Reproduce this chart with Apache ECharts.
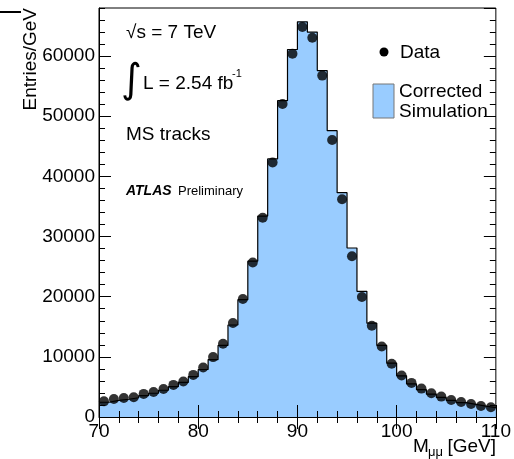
<!DOCTYPE html>
<html>
<head>
<meta charset="utf-8">
<script src="https://cdn.jsdelivr.net/npm/echarts@6/dist/echarts.min.js"></script>
<style>
html,body{margin:0;padding:0;background:#fff}
#chart{width:514px;height:459px}
</style>
</head>
<body>
<div id="chart"></div>
<script>
// bin centres, 1 GeV bins from 70 to 110
var binCenters = [70.5,71.5,72.5,73.5,74.5,75.5,76.5,77.5,78.5,79.5,
                  80.5,81.5,82.5,83.5,84.5,85.5,86.5,87.5,88.5,89.5,
                  90.5,91.5,92.5,93.5,94.5,95.5,96.5,97.5,98.5,99.5,
                  100.5,101.5,102.5,103.5,104.5,105.5,106.5,107.5,108.5,109.5];
var dataValues = [2600,3000,3170,3280,3840,4170,4670,5340,5890,7000,
                  8230,9960,12180,15630,19630,25700,33140,42320,52040,60380,
                  64830,63050,56760,46060,36200,26740,19960,15180,11730,8840,
                  6890,5670,4720,3950,3390,2840,2500,2170,1830,1620];
var simValues  = [2450,2750,2950,3200,3550,3950,4450,5050,5750,6700,
                  7900,9550,11900,15300,19500,25900,33400,42900,52600,61100,
                  65700,64000,57600,47600,37300,28100,20900,15600,11900,8950,
                  6850,5500,4550,3800,3250,2750,2400,2100,1800,1550];
var xTicks = [70, 80, 90, 100, 110];
var binWidth = 1;

var font = '"Liberation Sans", Arial, sans-serif';

// step outline from the lower edge of each bin, closed at the last upper edge
var histData = simValues.map(function(v, i){ return [binCenters[i] - binWidth/2, v]; });
histData.push([binCenters[binCenters.length-1] + binWidth/2, simValues[simValues.length-1]]);
var pointData = dataValues.map(function(v, i){ return [binCenters[i], v]; });

function xAx(pos, interval, len, labels){
  return {
    type:'value', position:pos, min:xTicks[0], max:xTicks[xTicks.length-1], interval:interval, z:5,
    axisLine:{show:labels, lineStyle:{color:'#000', width:1}},
    axisTick:{show:true, inside:true, length:len, lineStyle:{color:'#000', width:1}},
    axisLabel:{show:labels, color:'#000', fontSize:19, fontFamily:font, margin:5},
    splitLine:{show:false}
  };
}
function yAx(pos, interval, len, labels){
  return {
    type:'value', position:pos, min:0, max:68000, interval:interval, z:5,
    axisLine:{show:labels, lineStyle:{color:'#000', width:1}},
    axisTick:{show:true, inside:true, length:len, lineStyle:{color:'#000', width:1}},
    axisLabel:{show:labels, showMaxLabel:false, color:'#000', fontSize:19, fontFamily:font, margin:4,
               formatter:function(v){ return String(v); }},
    splitLine:{show:false}
  };
}

var chart = echarts.init(document.getElementById('chart'));
chart.setOption({
  animation:false,
  grid:{left:99, right:18, top:8, bottom:42, show:true, borderColor:'#000', borderWidth:1, backgroundColor:'transparent'},
  xAxis:[
    xAx('bottom', 10, 12, true),
    xAx('bottom', 2, 6, false),
    xAx('top', 10, 12, false),
    xAx('top', 2, 6, false)
  ],
  yAxis:[
    yAx('left', 10000, 12, true),
    yAx('left', 2000, 6, false),
    yAx('right', 10000, 12, false),
    yAx('right', 2000, 6, false)
  ],
  series:[
    {
      name:'Corrected Simulation', type:'line', step:'end', data:histData,
      xAxisIndex:0, yAxisIndex:0, symbol:'none', z:2,
      lineStyle:{color:'#000', width:1.2},
      areaStyle:{color:'#99ccff', opacity:1}
    },
    {
      name:'Data', type:'scatter', data:pointData, xAxisIndex:0, yAxisIndex:0,
      symbol:'circle', symbolSize:10, itemStyle:{color:'#000'}, z:4
    }
  ],
  graphic:[
    {type:'line', shape:{x1:0, y1:12, x2:21, y2:12}, style:{stroke:'#000', lineWidth:2}},
    {type:'text', x:31, y:8, rotation:Math.PI/2,
     style:{text:'Entries/GeV', font:'19px ' + font, fill:'#000', align:'right', verticalAlign:'middle'}},
    {type:'text', x:126, y:33, style:{text:'\u221As = 7 TeV', font:'19px ' + font, fill:'#000', verticalAlign:'middle'}},
    {type:'text', x:121, y:82, style:{text:'\u222B', font:'40px "DejaVu Sans", sans-serif', fill:'#000', verticalAlign:'middle'}},
    {type:'text', x:143, y:84, style:{text:'L = 2.54 fb', font:'19px ' + font, fill:'#000', verticalAlign:'middle'}},
    {type:'text', x:232, y:74, style:{text:'-1', font:'11px ' + font, fill:'#000', verticalAlign:'middle'}},
    {type:'text', x:126, y:135, style:{text:'MS tracks', font:'19px ' + font, fill:'#000', verticalAlign:'middle'}},
    {type:'text', x:126, y:191, style:{text:'ATLAS', font:'italic bold 14px ' + font, fill:'#000', verticalAlign:'middle'}},
    {type:'text', x:178, y:191, style:{text:'Preliminary', font:'13px ' + font, fill:'#000', verticalAlign:'middle'}},
    {type:'circle', shape:{cx:384, cy:52, r:4.5}, style:{fill:'#000'}},
    {type:'text', x:400, y:53, style:{text:'Data', font:'19px ' + font, fill:'#000', verticalAlign:'middle'}},
    {type:'rect', shape:{x:373, y:84, width:21, height:34}, style:{fill:'#99ccff', stroke:'#777', lineWidth:1}},
    {type:'text', x:399, y:92, style:{text:'Corrected', font:'19px ' + font, fill:'#000', verticalAlign:'middle'}},
    {type:'text', x:399, y:112, style:{text:'Simulation', font:'19px ' + font, fill:'#000', verticalAlign:'middle'}},
    {type:'text', x:413, y:447, style:{text:'M', font:'19px ' + font, fill:'#000', verticalAlign:'middle'}},
    {type:'text', x:428, y:452, style:{text:'\u03BC\u03BC', font:'13px ' + font, fill:'#000', verticalAlign:'middle'}},
    {type:'text', x:496, y:447, style:{text:'[GeV]', font:'19px ' + font, fill:'#000', align:'right', verticalAlign:'middle'}}
  ]
});
</script>
</body>
</html>
